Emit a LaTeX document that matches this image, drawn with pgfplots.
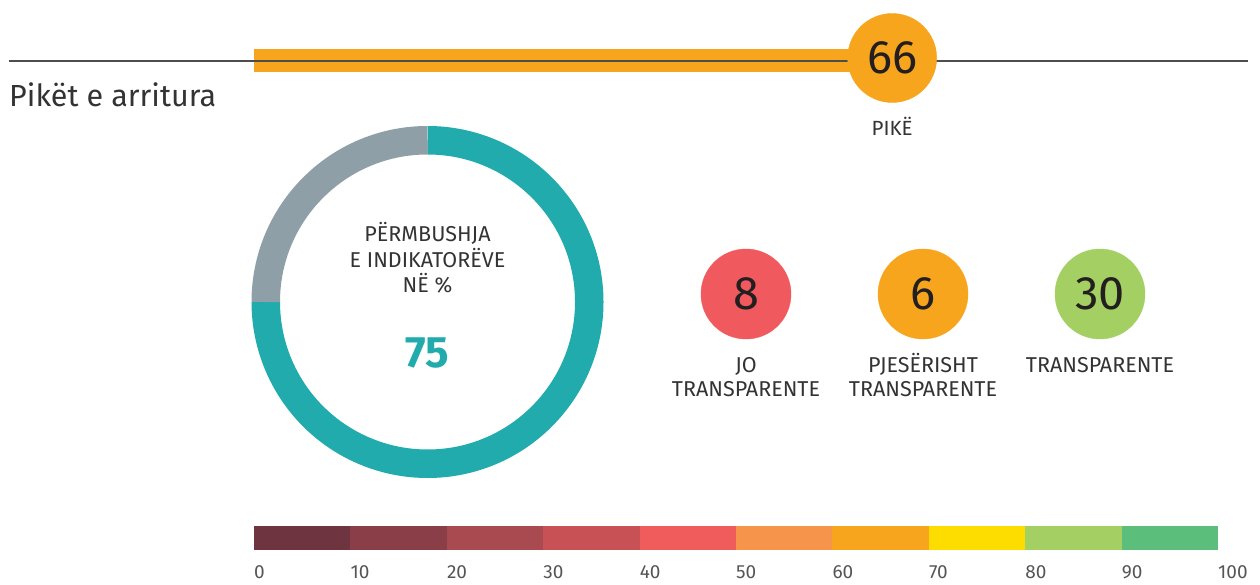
\documentclass[border=0pt]{standalone}
\usepackage{pgfplots}
\pgfplotsset{compat=1.18}
\usepackage{fontspec}
\setmainfont{Fira Sans}
\definecolor{cTeal}{HTML}{21ABAD}
\definecolor{cGrey}{HTML}{8F9FA8}
\definecolor{cLine}{HTML}{4D4D4D}
\definecolor{cText}{HTML}{333333}
\definecolor{cNum}{HTML}{231F20}
\definecolor{cTick}{HTML}{555555}
\definecolor{cRed}{HTML}{F05A5E}
\definecolor{cOrange}{HTML}{F8A51E}
\definecolor{cGreen}{HTML}{A4CF62}
\definecolor{s0}{HTML}{6E3440}
\definecolor{s1}{HTML}{8A3E47}
\definecolor{s2}{HTML}{A94A50}
\definecolor{s3}{HTML}{C85156}
\definecolor{s4}{HTML}{F05B5C}
\definecolor{s5}{HTML}{F7944B}
\definecolor{s6}{HTML}{F8A51E}
\definecolor{s7}{HTML}{FDDC00}
\definecolor{s8}{HTML}{A4CF62}
\definecolor{s9}{HTML}{5CBE7B}
\def\score{66}
\def\compliance{75}
\begin{document}
\begin{tikzpicture}
\useasboundingbox (0,0) rectangle (1260pt,585pt);
\begin{axis}[
  at={(0,0)}, anchor=south west,
  width=1260pt, height=585pt, scale only axis,
  xmin=-26.349, xmax=104.357, ymin=0, ymax=585,
  y dir=reverse, hide axis, clip=false,
  /pgf/number format/assume math mode=true,
]
% score bar (0..66 on the 0..100 scale)
\addplot[draw=none, fill=cOrange] coordinates {(0,49.5) (\score,49.5) (\score,72.5) (0,72.5)};
% top rule
\addplot[color=cLine, line width=1.5pt] coordinates {(-25.415,61) (103.112,61)};
% score circle
\addplot[only marks, mark=*, mark size=44.5pt, color=cOrange,
  nodes near coords, point meta=explicit symbolic,
  nodes near coords style={anchor=center, inner sep=0pt, text=cNum, font=\fontsize{47}{47}\selectfont}]
  coordinates {(66.2,58) [66]};
% colour scale
\addplot[draw=none, fill=s0] coordinates {(0,526) (10,526) (10,550) (0,550)};
\addplot[draw=none, fill=s1] coordinates {(10,526) (20,526) (20,550) (10,550)};
\addplot[draw=none, fill=s2] coordinates {(20,526) (30,526) (30,550) (20,550)};
\addplot[draw=none, fill=s3] coordinates {(30,526) (40,526) (40,550) (30,550)};
\addplot[draw=none, fill=s4] coordinates {(40,526) (50,526) (50,550) (40,550)};
\addplot[draw=none, fill=s5] coordinates {(50,526) (60,526) (60,550) (50,550)};
\addplot[draw=none, fill=s6] coordinates {(60,526) (70,526) (70,550) (60,550)};
\addplot[draw=none, fill=s7] coordinates {(70,526) (80,526) (80,550) (70,550)};
\addplot[draw=none, fill=s8] coordinates {(80,526) (90,526) (90,550) (80,550)};
\addplot[draw=none, fill=s9] coordinates {(90,526) (100,526) (100,550) (90,550)};
% scale labels
\addplot[draw=none, nodes near coords, point meta=x,
  nodes near coords style={anchor=base west, inner sep=0pt, text=cTick, font=\fontsize{19}{19}\selectfont}]
  coordinates {(0,578) (10,578) (20,578) (30,578) (40,578) (50,578) (60,578) (70,578) (80,578) (90,578) (100,578)};
% indicator circles
\addplot[only marks, mark=*, mark size=45pt, color=cRed,
  nodes near coords, point meta=explicit symbolic,
  nodes near coords style={anchor=center, inner sep=0pt, text=cNum, font=\fontsize{47}{47}\selectfont}]
  coordinates {(51.037,294) [8]};
\addplot[only marks, mark=*, mark size=45pt, color=cOrange,
  nodes near coords, point meta=explicit symbolic,
  nodes near coords style={anchor=center, inner sep=0pt, text=cNum, font=\fontsize{47}{47}\selectfont}]
  coordinates {(69.398,294) [6]};
\addplot[only marks, mark=*, mark size=45pt, color=cGreen,
  nodes near coords, point meta=explicit symbolic,
  nodes near coords style={anchor=center, inner sep=0pt, text=cNum, font=\fontsize{47}{47}\selectfont}]
  coordinates {(87.759,294) [30]};
% donut
\draw[line width=28.5pt, cTeal] (axis cs:17.998,302) ++(90:161.75pt) arc[start angle=90, end angle={90-3.6*\compliance}, radius=161.75pt];
\draw[line width=28.5pt, cGrey] (axis cs:17.998,302) ++(90:161.75pt) arc[start angle=90, end angle=180, radius=161.75pt];
% texts
\node[anchor=base west, inner sep=0pt, text=cText, font=\fontsize{30.5}{30.5}\selectfont] at (axis cs:-25.415,107) {Pikët e arritura};
\node[anchor=base, inner sep=0pt, text=cText, font=\fontsize{20.5}{20.5}\selectfont] at (axis cs:66.2,136) {PIKË};
\node[anchor=base, inner sep=0pt, text=cText, font=\fontsize{21.5}{21.5}\selectfont] at (axis cs:17.998,241.7) {PËRMBUSHJA};
\node[anchor=base, inner sep=0pt, text=cText, font=\fontsize{21.5}{21.5}\selectfont] at (axis cs:17.998,267.7) {E INDIKATORËVE};
\node[anchor=base, inner sep=0pt, text=cText, font=\fontsize{21.5}{21.5}\selectfont] at (axis cs:17.998,292.7) {NË \%};
\node[anchor=base, inner sep=0pt, text=cTeal, font=\bfseries\fontsize{44}{44}\selectfont] at (axis cs:17.998,367) {75};
\node[anchor=base, inner sep=0pt, text=cText, font=\fontsize{21.5}{21.5}\selectfont] at (axis cs:51.037,372) {JO};
\node[anchor=base, inner sep=0pt, text=cText, font=\fontsize{21.5}{21.5}\selectfont] at (axis cs:51.037,396) {TRANSPARENTE};
\node[anchor=base, inner sep=0pt, text=cText, font=\fontsize{21.5}{21.5}\selectfont] at (axis cs:69.398,372) {PJESËRISHT};
\node[anchor=base, inner sep=0pt, text=cText, font=\fontsize{21.5}{21.5}\selectfont] at (axis cs:69.398,396) {TRANSPARENTE};
\node[anchor=base, inner sep=0pt, text=cText, font=\fontsize{21.5}{21.5}\selectfont] at (axis cs:87.759,372) {TRANSPARENTE};
\end{axis}
\end{tikzpicture}
\end{document}
